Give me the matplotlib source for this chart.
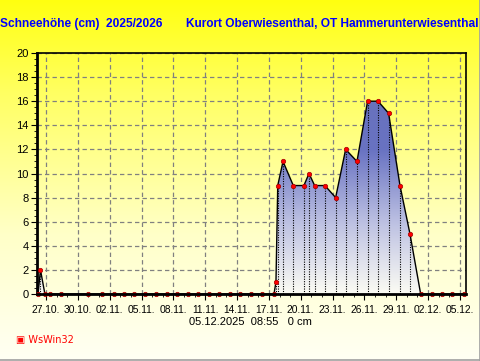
"""
Schneehöhe chart, Kurort Oberwiesenthal (WsWin32 style)
"""

from datetime import datetime
import numpy as np
import matplotlib
matplotlib.use("Agg")
import matplotlib.pyplot as plt
import matplotlib.dates as mdates
from matplotlib.colors import LinearSegmentedColormap
from matplotlib.patches import Polygon
from matplotlib.lines import Line2D

plt.rcParams["font.family"] = ["Liberation Sans", "DejaVu Sans"]

# measurement times and snow depth (cm)
times = [
    "26.10.2025 06:00", "26.10.2025 11:30", "26.10.2025 21:30",
    "27.10.2025 08:55", "28.10.2025 08:55", "30.10.2025 23:30",
    "01.11.2025 05:45", "02.11.2025 09:35", "03.11.2025 08:55",
    "04.11.2025 07:40", "05.11.2025 07:55", "06.11.2025 08:40",
    "07.11.2025 08:55", "08.11.2025 08:10", "09.11.2025 09:10",
    "10.11.2025 07:40", "11.11.2025 08:40", "12.11.2025 07:10",
    "13.11.2025 07:55", "14.11.2025 06:30", "15.11.2025 07:25",
    "16.11.2025 08:25", "17.11.2025 11:30", "17.11.2025 16:00",
    "17.11.2025 20:00", "18.11.2025 07:55", "19.11.2025 07:10",
    "20.11.2025 07:10", "20.11.2025 18:45", "21.11.2025 07:25",
    "22.11.2025 06:40", "23.11.2025 06:55", "24.11.2025 05:30",
    "25.11.2025 07:10", "26.11.2025 07:10", "27.11.2025 06:40",
    "28.11.2025 06:40", "29.11.2025 08:25", "30.11.2025 06:55",
    "01.12.2025 07:10", "02.12.2025 07:55", "03.12.2025 07:55",
    "04.12.2025 06:40", "05.12.2025 08:55",
]
depth = [
    0, 2, 0, 0, 0, 0, 0, 0, 0, 0, 0, 0, 0, 0, 0, 0, 0, 0, 0, 0, 0, 0,
    0, 1, 9, 11, 9, 9, 10, 9, 9, 8, 12, 11, 16, 16, 15, 9, 5, 0, 0, 0, 0, 0,
]
tick_labels = [
    "27.10.", "30.10.", "02.11.", "05.11.", "08.11.", "11.11.", "14.11.",
    "17.11.", "20.11.", "23.11.", "26.11.", "29.11.", "02.12.", "05.12.",
]
title_left = "Schneehöhe (cm)  2025/2026"
title_right = "Kurort Oberwiesenthal, OT Hammerunterwiesenthal"
footer = "05.12.2025  08:55   0 cm"

x = mdates.date2num([datetime.strptime(t, "%d.%m.%Y %H:%M") for t in times])
y = np.array(depth, dtype=float)
tick_x = mdates.date2num([datetime.strptime(t + "2025", "%d.%m.%Y") for t in tick_labels])

fig = plt.figure(figsize=(4.81, 3.61), dpi=100)

# yellow background gradient over the whole figure
bg = fig.add_axes([0, 0, 1, 1], zorder=-10)
bg_cmap = LinearSegmentedColormap.from_list(
    "bg", [(0.0, "#fffff4"), (0.35, "#ffffc8"), (0.75, "#ffff60"), (1.0, "#ffff10")])
bg.imshow(np.linspace(0, 1, 256).reshape(-1, 1), aspect="auto", cmap=bg_cmap,
          origin="lower", extent=[0, 1, 0, 1])
bg.set_axis_off()
fig.add_artist(Line2D([0.998, 0.998], [0, 1], color="#a0a0a0", lw=1.2))
fig.add_artist(Line2D([0, 1], [0.002, 0.002], color="#a0a0a0", lw=1.2))

ax = fig.add_axes([37 / 481, 67 / 361, 429 / 481, 241 / 361])
ax.set_facecolor("none")
x0 = tick_x[0] - 0.848
x1 = tick_x[0] + 39.57
ax.set_xlim(x0, x1)
ax.set_ylim(0, 20)

# gradient-filled area under the curve
fill_cmap = LinearSegmentedColormap.from_list(
    "fill", [(0.0, "#fcfcf4"), (0.3, "#bcc0e2"), (0.6, "#6872c2"), (1.0, "#6a72b8")])
poly = Polygon(np.column_stack([np.r_[x[0], x, x[-1]], np.r_[0, y, 0]]),
               closed=True, facecolor="none", edgecolor="none")
ax.add_patch(poly)
im = ax.imshow(np.linspace(0, 1, 256).reshape(-1, 1), aspect="auto", cmap=fill_cmap,
               origin="lower", extent=[x0, x1, 0, 20], zorder=1)
im.set_clip_path(poly)

# dotted drop lines under each reading
for xi, yi in zip(x, y):
    if yi > 0:
        ax.plot([xi, xi], [0, yi], color="black", lw=0.8, ls=(0, (1, 1.2)), zorder=2)

ax.plot(x, y, color="black", lw=1.0, zorder=3)
ax.plot(x, y, "o", ms=3.2, mfc="#ff0000", mec="#a00000", mew=0.5, zorder=4, clip_on=False)

# grid and ticks
ax.set_xticks(tick_x)
ax.set_xticklabels(tick_labels)
ax.set_xticks(np.arange(tick_x[0], x1, 1), minor=True)
ax.set_yticks(np.arange(0, 21, 2))
ax.set_yticks(np.arange(0, 20.1, 0.5), minor=True)
ax.grid(True, which="major", color="#808080", lw=0.9, ls=(0, (3.5, 2.5)))
ax.set_axisbelow(True)
ax.tick_params(which="major", length=4, width=0.8, pad=2)
ax.tick_params(axis="x", labelsize=7.4, pad=4)
ax.tick_params(axis="y", labelsize=8.0)
ax.tick_params(which="minor", length=2, width=0.6)

for side in ["left", "bottom"]:
    ax.spines[side].set_linewidth(2)
for side in ["top", "right"]:
    ax.spines[side].set_linewidth(1.2)
ax.spines["bottom"].set_zorder(5)

fig.text(0.0, 1 - 24 / 361, title_left, color="#0000ff", fontsize=8.6,
         fontweight="bold", va="center", ha="left")
fig.text(186 / 481, 1 - 24 / 361, title_right, color="#0000ff", fontsize=8.6,
         fontweight="bold", va="center", ha="left")
fig.text(250 / 481, 1 - 322 / 361, footer, color="black", fontsize=8,
         va="center", ha="center")
fig.text(16 / 481, 1 - 340 / 361, "▣ WsWin32", color="#ff0000", fontsize=7,
         va="center", ha="left", family=["DejaVu Sans"])

plt.savefig("out.png", dpi=100)
